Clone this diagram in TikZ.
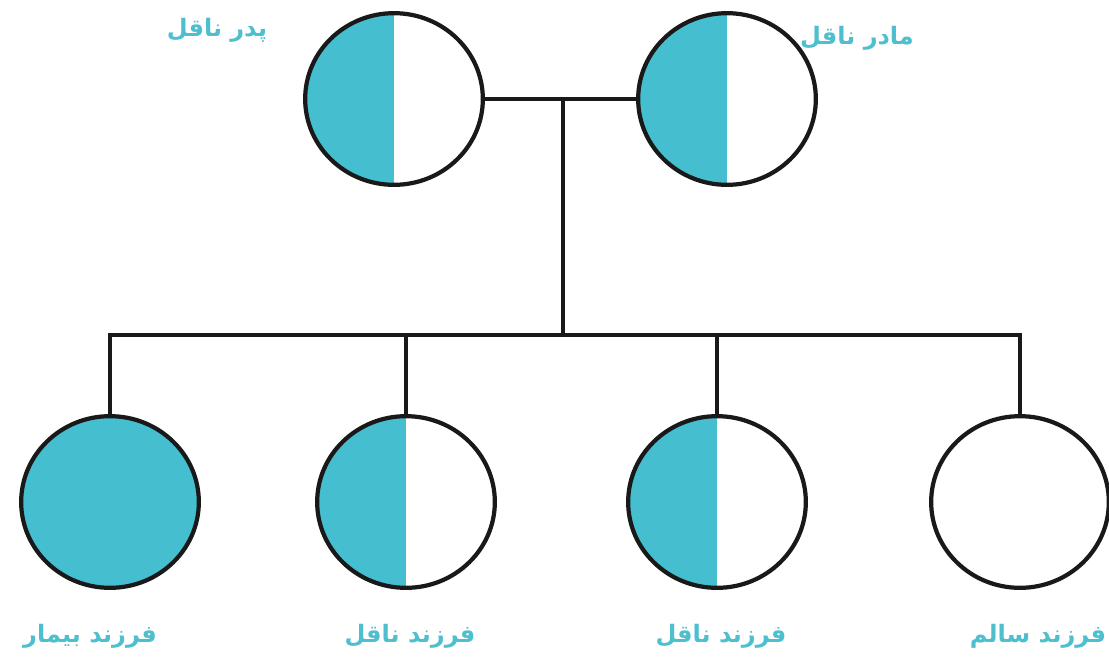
\documentclass[tikz,border=0pt]{standalone}
\usepackage{fontspec}
\newfontfamily\arabicfont[Script=Arabic]{DejaVu Sans}
\TeXXeTstate=1
\usetikzlibrary{shapes.geometric}
\definecolor{teal1}{HTML}{45BED0}
\definecolor{lbl}{HTML}{4DBFCE}
\begin{document}
\begin{tikzpicture}[x=0.03cm,y=-0.03cm,
  person/.style={ellipse, draw=black!90, line width=3.6pt, minimum width=5.33cm, minimum height=5.15cm, inner sep=0pt},
  half/.style={person, path picture={\fill[teal1] (path picture bounding box.south west) rectangle (path picture bounding box.north);}},
  full/.style={person, fill=teal1},
  empty/.style={person, fill=white},
  lab/.style={text=lbl, font=\arabicfont\bfseries\fontsize{20.5}{24}\selectfont},
  link/.style={draw=black!90, line width=3.6pt, line cap=rect, line join=miter}]
\useasboundingbox (0,0) rectangle (1109,662);
% parents
\node[half] (f) at (394,99) {};
\node[half] (m) at (727,99) {};
\coordinate (j) at (563,99);
\coordinate (k) at (563,335);
% children
\node[full]  (c1) at (110,502) {};
\node[half]  (c2) at (406,502) {};
\node[half]  (c3) at (717,502) {};
\node[empty] (c4) at (1020,502) {};
% connectors
\draw[link] (f.east) -- (m.west);
\draw[link] (j) -- (k);
\draw[link] (c1.north) -- (c1.north |- k) -- (c4.north |- k) -- (c4.north);
\draw[link] (c2.north |- k) -- (c2.north);
\draw[link] (c3.north |- k) -- (c3.north);
% labels
\node[lab] (lf) at (217,30) {\beginR پدر ناقل\endR};
\node[lab] (lm) at (857,38) {\beginR مادر ناقل\endR};
\node[lab] (l1) at (90,636) {\beginR فرزند بیمار\endR};
\node[lab] (l2) at (410,636) {\beginR فرزند ناقل\endR};
\node[lab] (l3) at (721,636) {\beginR فرزند ناقل\endR};
\node[lab] (l4) at (1038,636) {\beginR فرزند سالم\endR};
\end{tikzpicture}
\end{document}
